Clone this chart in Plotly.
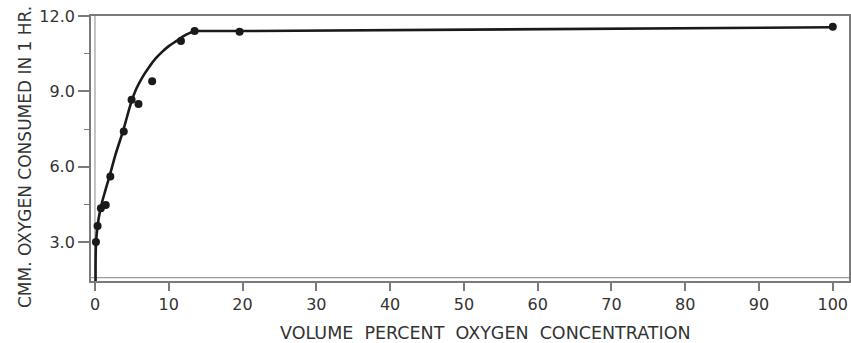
import plotly.graph_objects as go

# Measured points
oxygen_pct = [0.13, 0.35, 0.8, 1.46, 2.08, 3.9, 4.96, 5.9, 7.75, 11.65, 13.5, 19.6, 100]
consumption = [3.0, 3.64, 4.35, 4.48, 5.61, 7.4, 8.67, 8.5, 9.4, 11.0, 11.4, 11.37, 11.57]

# Hand-drawn fitted curve
curve_x = [0.08, 0.13, 0.35, 0.8, 1.4, 2.0, 2.8, 3.8, 4.9, 5.6, 6.4, 7.3, 8.2, 9.1,
           10.0, 11.0, 12.0, 12.8, 13.5]
curve_y = [1.45, 2.9, 3.65, 4.4, 5.05, 5.65, 6.5, 7.42, 8.55, 9.1, 9.55, 9.95, 10.3, 10.57,
           10.8, 11.0, 11.2, 11.32, 11.4]
plateau_x = [13.5, 20, 100]
plateau_y = [11.4, 11.4, 11.55]

x_ticks = [0, 10, 20, 30, 40, 50, 60, 70, 80, 90, 100]
y_ticks = [3, 6, 9, 12]
y_ticktext = ["3.0", "6.0", "9.0", "12.0"]
y_minor = [4.5, 7.5, 10.5]

x_title = "VOLUME&nbsp;&nbsp;PERCENT&nbsp;&nbsp;OXYGEN&nbsp;&nbsp;CONCENTRATION"
y_title = "CMM. OXYGEN CONSUMED IN 1 HR."

ink = "#1a1a1a"
text_col = "#333333"
axis_col = "#7a7a7a"
frame_col = "#9a9a9a"
font_family = "DejaVu Sans"

fig = go.Figure()
fig.add_trace(go.Scatter(x=curve_x, y=curve_y, mode="lines",
                         line=dict(color=ink, width=2.6, shape="spline", smoothing=0.9),
                         hoverinfo="skip", showlegend=False))
fig.add_trace(go.Scatter(x=plateau_x, y=plateau_y, mode="lines",
                         line=dict(color=ink, width=2.6),
                         hoverinfo="skip", showlegend=False))
fig.add_trace(go.Scatter(x=oxygen_pct, y=consumption, mode="markers",
                         marker=dict(color=ink, size=8),
                         showlegend=False))

# inner rules of the double axis lines
fig.add_shape(type="line", xref="x", yref="paper", x0=0, x1=0, y0=0, y1=1,
              line=dict(color=frame_col, width=1.2), layer="below")
fig.add_shape(type="line", xref="paper", yref="paper", x0=0, x1=1, y0=0.013, y1=0.013,
              line=dict(color=frame_col, width=1.2), layer="below")

fig.update_layout(
    width=851, height=343,
    margin=dict(l=91, r=2, t=16, b=62),
    paper_bgcolor="white", plot_bgcolor="white",
    font=dict(family=font_family, color=text_col),
    xaxis=dict(
        range=[-0.54, 102.2], automargin=False,
        tickvals=x_ticks,
        ticks="outside", ticklen=8, tickwidth=1.5, tickcolor=axis_col,
        tickfont=dict(size=16, color=text_col),
        showline=True, linecolor=axis_col, linewidth=1.8, mirror=True,
        showgrid=False, zeroline=False,
    ),
    yaxis=dict(
        range=[1.45, 12.0], automargin=False,
        tickvals=y_ticks, ticktext=y_ticktext,
        ticks="outside", ticklen=11, tickwidth=1.5, tickcolor=axis_col,
        tickfont=dict(size=16, color=text_col),
        minor=dict(tickvals=y_minor, ticks="outside", ticklen=5,
                   tickcolor=axis_col, tickwidth=1.2),
        showline=True, linecolor=axis_col, linewidth=1.8, mirror=True,
        showgrid=False, zeroline=False,
    ),
    annotations=[
        dict(text=x_title, xref="paper", yref="paper", x=0.5, y=0,
             xanchor="center", yanchor="middle", xshift=15, yshift=-51.5,
             showarrow=False, font=dict(size=17.5, color=text_col)),
        dict(text=y_title, xref="paper", yref="paper", x=0, y=0.5,
             xanchor="center", yanchor="middle", xshift=-66, yshift=-8.5,
             textangle=-90, showarrow=False, font=dict(size=17, color=text_col)),
    ],
)

# remove the browser's default 8px body margin so the figure fills the window
fig.write_html("out.html",
               config={"displayModeBar": False},
               post_script="document.body.style.margin='0';document.body.style.overflow='hidden';")
